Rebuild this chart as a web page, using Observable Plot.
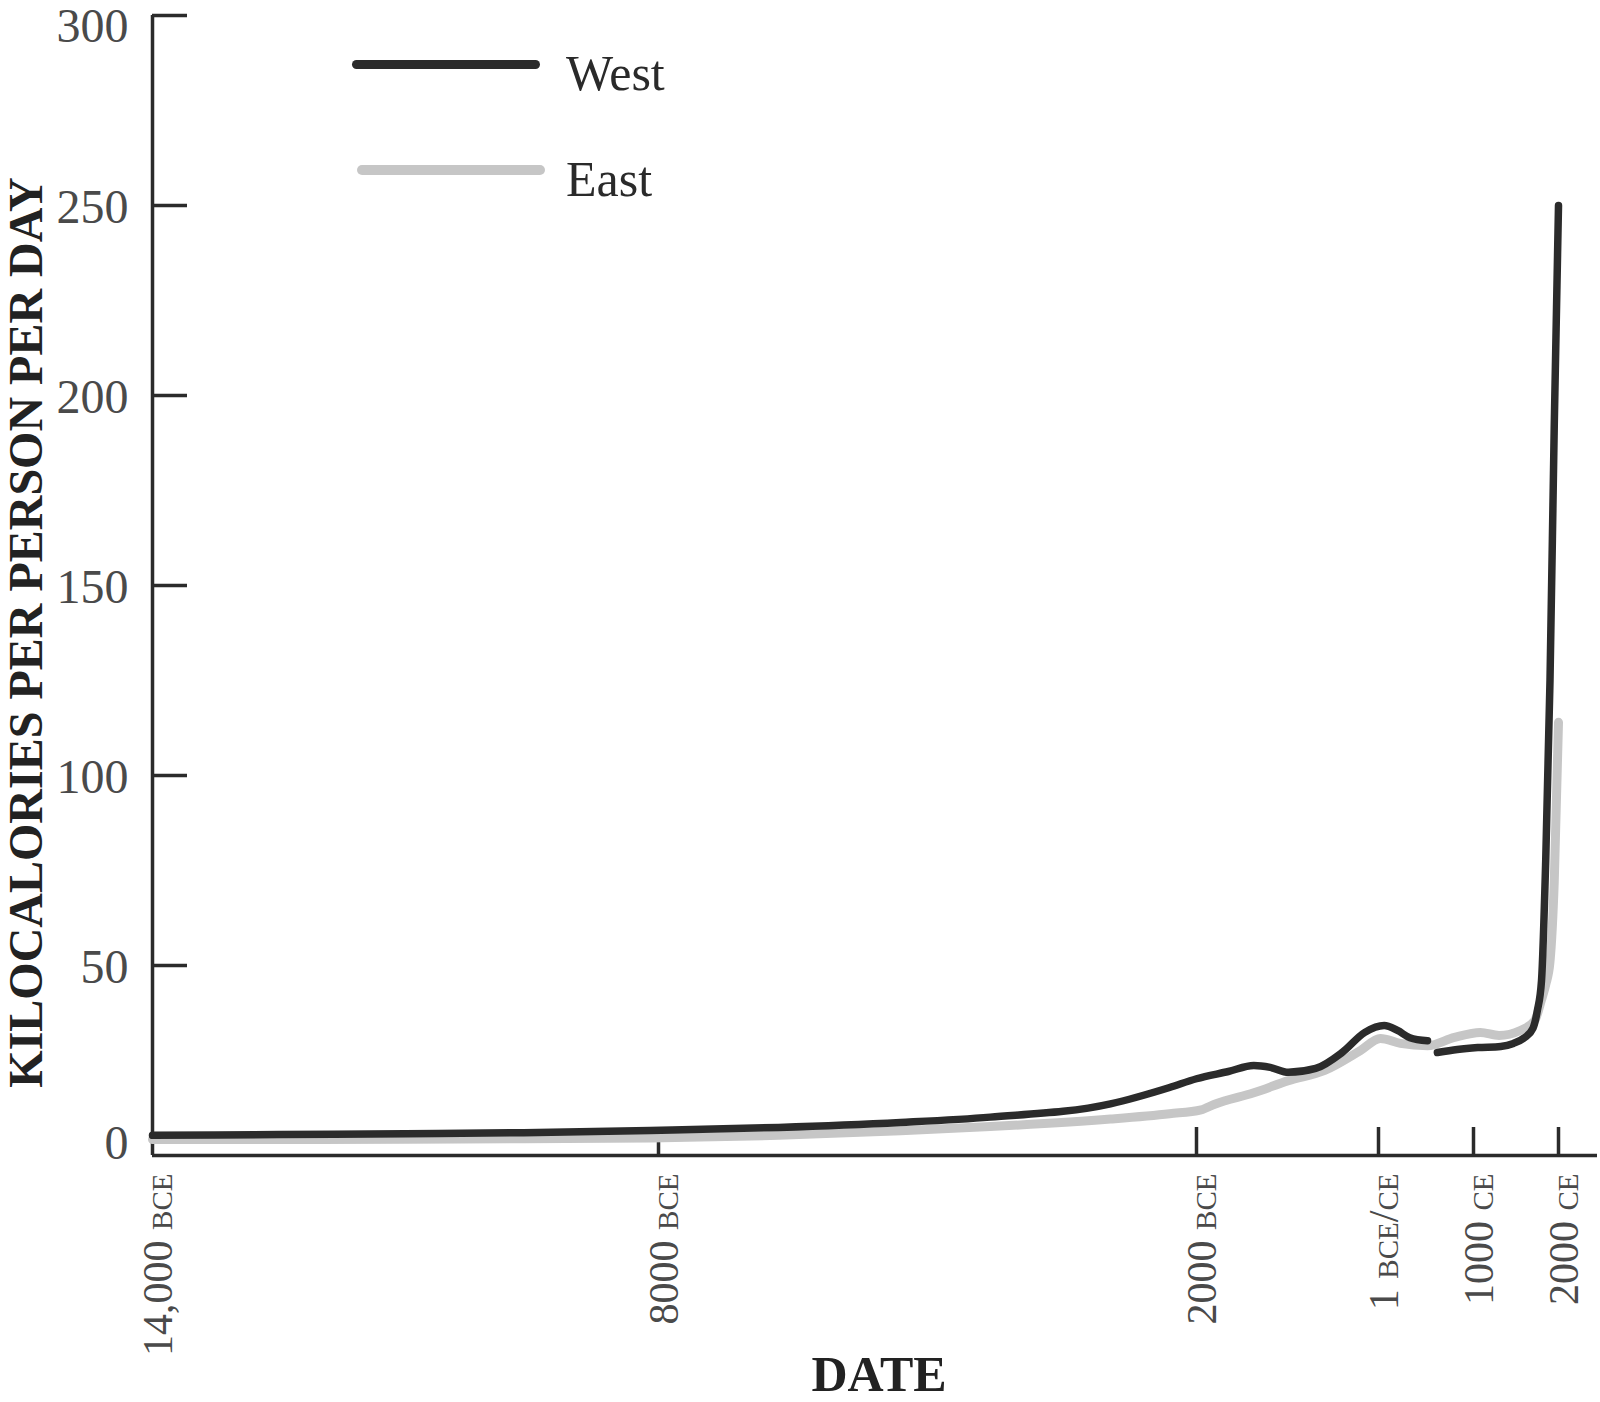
<!DOCTYPE html>
<html>
<head>
<meta charset="utf-8">
<script src="https://cdn.jsdelivr.net/npm/d3@7"></script>
<script src="https://cdn.jsdelivr.net/npm/@observablehq/plot@0.6"></script>
<style>
  body { margin: 0; background: #fff; }
  #wrap { position: relative; width: 1600px; height: 1402px; background: #fff; }
  .legend-line { position: absolute; }
  .legend-text { position: absolute; font-family: "Liberation Serif", "Times New Roman", serif; font-size: 50px; line-height: 50px; color: #2a2a2a; white-space: nowrap; }
  svg g[aria-label="x-axis tick label"] { font-variant: small-caps !important; }
</style>
</head>
<body>
<div id="wrap"></div>
<script>
// ---- data ----
const seriesNames = ["West", "East"];
const seriesColors = ["#2b2b2b", "#c6c6c6"];

const westYears = [-14000, -12500, -11000, -9600, -8100, -6660, -5300, -4300, -2960, -2300, -2000, -1650, -1370, -1190, -990, -690, -400, -150, 60, 200, 330, 516, 570, 620, 830, 1050, 1320, 1470, 1600, 1700, 1750, 1800, 1850, 1900, 1950, 2000];
const westValues = [5.3, 5.5, 5.7, 6.0, 6.6, 7.4, 8.7, 10.1, 13.6, 17.9, 20.2, 22.1, 23.7, 23.2, 21.9, 22.9, 27.1, 32.4, 34.2, 32.9, 31.0, 30.2, NaN, 27.1, 27.9, 28.4, 28.7, 29.5, 31.0, 33.5, 38, 46, 78, 125, 192, 250];

const eastYears = [-14000, -12500, -11000, -9600, -8100, -6660, -5300, -4300, -2960, -2300, -1950, -1800, -1370, -990, -590, -200, 20, 230, 516, 800, 1080, 1300, 1550, 1720, 1800, 1850, 1900, 1950, 2000];
const eastValues = [4.2, 4.2, 4.3, 4.4, 4.6, 5.3, 6.5, 7.6, 9.6, 11.0, 12.0, 13.5, 16.5, 19.7, 22.4, 27.6, 30.8, 29.5, 28.9, 31.1, 32.4, 31.6, 32.9, 35.5, 41, 45, 51, 72, 114];

const xTicks = [-14000, -8000, -2000, 0, 1000, 2000];
const xTickLabels = ["14,000 bce", "8000 bce", "2000 bce", "1 bce/ce", "1000 ce", "2000 ce"];
const yTicks = [0, 50, 100, 150, 200, 250, 300];

const xTitle = "DATE";
const yTitle = "KILOCALORIES PER PERSON PER DAY";

// the hand-drawn date axis is not perfectly uniform: piecewise-linear scale through the tick dates
const xScaleRange = [152, 658, 1196, 1378, 1473, 1558];

// ---- tables built from the arrays ----
const west = westYears.map((year, i) => ({year, value: westValues[i]}));
const east = eastYears.map((year, i) => ({year, value: eastValues[i]}));

const serif = '"Liberation Serif", "Times New Roman", serif';
const axisInk = "#2b2b2b";
const labelInk = "#4a4a4a";

const W = 1600, H = 1402;
const mT = 15, mB = 247, mL = 152, mR = 3;
const frameW = W - mL - mR, frameH = H - mT - mB;

const chart = Plot.plot({
  width: W,
  height: H,
  marginTop: mT,
  marginBottom: mB,
  marginLeft: mL,
  marginRight: mR,
  style: {fontFamily: serif, background: "#fff", color: axisInk, overflow: "visible"},
  x: {type: "linear", domain: xTicks, range: xScaleRange, label: null},
  y: {type: "linear", domain: [yTicks[0], yTicks[yTicks.length - 1]], label: null},
  marks: [
    // axis lines
    Plot.ruleY([yTicks[0]], {stroke: axisInk, strokeWidth: 3.5}),
    Plot.ruleX([xTicks[0]], {stroke: axisInk, strokeWidth: 3.5}),
    // inward ticks
    Plot.tickY(yTicks.slice(1), {y: d => d, stroke: axisInk, strokeWidth: 3.5, insetRight: frameW - 35}),
    Plot.tickX(xTicks.slice(1), {x: d => d, stroke: axisInk, strokeWidth: 3.5, insetTop: frameH - 28}),
    // y tick labels
    Plot.axisY(yTicks.slice(1, -1), {anchor: "left", tickSize: 0, tickPadding: 24, fontSize: 48, fill: labelInk, dy: 2, label: null, tickFormat: d => String(d)}),
    Plot.axisY([yTicks[yTicks.length - 1]], {anchor: "left", tickSize: 0, tickPadding: 24, fontSize: 48, fill: labelInk, dy: 11, label: null, tickFormat: d => String(d)}),
    Plot.axisY([yTicks[0]], {anchor: "left", tickSize: 0, tickPadding: 24, fontSize: 48, fill: labelInk, dy: -12, label: null, tickFormat: d => String(d)}),
    // x tick labels (rotated)
    Plot.axisX(xTicks, {anchor: "bottom", tickSize: 0, tickPadding: 18, tickRotate: -90, fontSize: 42, fill: labelInk, dx: 6, label: null, textAnchor: "end", fontVariant: "small-caps", tickFormat: d => xTickLabels[xTicks.indexOf(d)]}),
    // data lines
    Plot.line(east, {x: "year", y: "value", stroke: seriesColors[1], strokeWidth: 9, curve: "monotone-x", strokeLinecap: "round", strokeLinejoin: "round"}),
    Plot.line(west, {x: "year", y: "value", stroke: seriesColors[0], strokeWidth: 7.5, curve: "monotone-x", strokeLinecap: "round", strokeLinejoin: "round"}),
    // axis titles
    Plot.text([yTitle], {text: d => d, frameAnchor: "left", rotate: -90, dx: -126, dy: 47, fontSize: 48, fontWeight: "bold", fill: "#222", textAnchor: "middle", lineAnchor: "middle"}),
    Plot.text([xTitle], {text: d => d, frameAnchor: "bottom", dx: 4, dy: 235, fontSize: 50, fontWeight: "bold", fill: "#222", textAnchor: "middle", lineAnchor: "bottom"})
  ]
});

const wrap = document.getElementById("wrap");
wrap.appendChild(chart);

// legend (inside the plot area, upper left)
const legendSpec = [
  {name: seriesNames[0], color: seriesColors[0], lineLeft: 352, lineTop: 60, lineH: 9, textTop: 48},
  {name: seriesNames[1], color: seriesColors[1], lineLeft: 357, lineTop: 165, lineH: 10, textTop: 154}
];
for (const s of legendSpec) {
  const line = document.createElement("div");
  line.className = "legend-line";
  line.style.left = s.lineLeft + "px";
  line.style.top = s.lineTop + "px";
  line.style.width = "188px";
  line.style.height = s.lineH + "px";
  line.style.borderRadius = (s.lineH / 2) + "px";
  line.style.background = s.color;
  wrap.appendChild(line);
  const t = document.createElement("span");
  t.className = "legend-text";
  t.style.left = "566px";
  t.style.top = s.textTop + "px";
  t.textContent = s.name;
  wrap.appendChild(t);
}
</script>
</body>
</html>
